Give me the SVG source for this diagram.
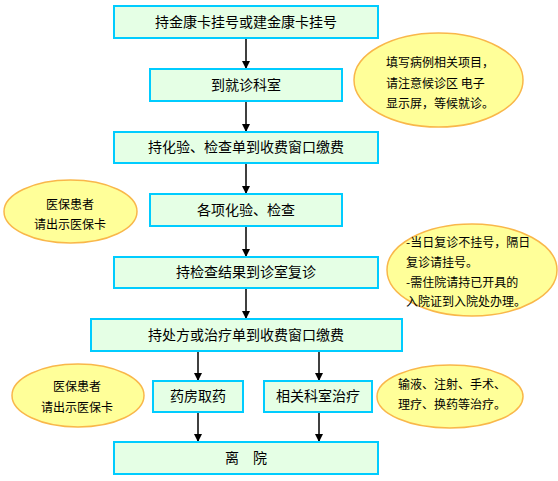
<svg xmlns="http://www.w3.org/2000/svg" width="558" height="481" viewBox="0 0 558 481">
<style>
.box{fill:#E5FFE5;stroke:#00CCFF;stroke-width:2}
.ell{fill:#FFFF99;stroke:#F9B74A;stroke-width:1.5}
.t{font-family:"Noto Sans CJK SC","Noto Sans",sans-serif;font-size:14px;fill:#000;text-anchor:middle}
.s{font-family:"Noto Sans CJK SC","Noto Sans",sans-serif;font-size:12px;fill:#000}
.c{text-anchor:middle}
.ln{stroke:#000;stroke-width:1.5;fill:none}
</style>
<defs>
<marker id="ah" viewBox="0 0 8 8" refX="8" refY="4" markerWidth="8" markerHeight="8" markerUnits="userSpaceOnUse" orient="auto">
<path d="M0,0 L8,4 L0,8 Z" fill="#000"/>
</marker>
</defs>
<rect width="558" height="481" fill="#fff"/>
<g id="connectors">
<line class="ln" x1="246" y1="38" x2="246" y2="69" marker-end="url(#ah)"/>
<line class="ln" x1="246" y1="101" x2="246" y2="132" marker-end="url(#ah)"/>
<line class="ln" x1="246" y1="163" x2="246" y2="194" marker-end="url(#ah)"/>
<line class="ln" x1="246" y1="226" x2="246" y2="257" marker-end="url(#ah)"/>
<line class="ln" x1="246" y1="288" x2="246" y2="319" marker-end="url(#ah)"/>
<line class="ln" x1="198" y1="351" x2="198" y2="381" marker-end="url(#ah)"/>
<line class="ln" x1="319" y1="351" x2="319" y2="381" marker-end="url(#ah)"/>
<line class="ln" x1="198" y1="412" x2="198" y2="442" marker-end="url(#ah)"/>
<line class="ln" x1="319" y1="412" x2="319" y2="442" marker-end="url(#ah)"/>
</g>
<g id="n1"><rect class="box" x="114" y="6" width="264" height="32"/><text class="t" x="246" y="27">持金康卡挂号或建金康卡挂号</text></g>
<g id="n2"><rect class="box" x="150" y="69" width="192" height="32"/><text class="t" x="246" y="90">到就诊科室</text></g>
<g id="n3"><rect class="box" x="114" y="132" width="264" height="31"/><text class="t" x="246" y="152">持化验、检查单到收费窗口缴费</text></g>
<g id="n4"><rect class="box" x="150" y="194" width="192" height="32"/><text class="t" x="246" y="215">各项化验、检查</text></g>
<g id="n5"><rect class="box" x="114" y="257" width="264" height="31"/><text class="t" x="246" y="277">持检查结果到诊室复诊</text></g>
<g id="n6"><rect class="box" x="91" y="319" width="311" height="32"/><text class="t" x="246" y="340">持处方或治疗单到收费窗口缴费</text></g>
<g id="n7"><rect class="box" x="153" y="381" width="90" height="31"/><text class="t" x="198" y="401">药房取药</text></g>
<g id="n8"><rect class="box" x="264" y="381" width="108" height="31"/><text class="t" x="318" y="401">相关科室治疗</text></g>
<g id="n9"><rect class="box" x="114" y="442" width="264" height="32"/><text class="t" x="246" y="463">离　院</text></g>
<g id="e1"><ellipse class="ell" cx="438.5" cy="80" rx="84.5" ry="47"/>
<text class="s" x="386" y="67">填写病例相关项目，</text>
<text class="s" x="386" y="88">请注意候诊区 电子</text>
<text class="s" x="386" y="108">显示屏，等候就诊。</text></g>
<g id="e2"><ellipse class="ell" cx="70.5" cy="211.5" rx="66.5" ry="31.5"/>
<text class="s c" x="70" y="209">医保患者</text>
<text class="s c" x="70" y="229">请出示医保卡</text></g>
<g id="e3"><ellipse class="ell" cx="472" cy="270" rx="85" ry="46"/>
<text class="s" x="406" y="247">-当日复诊不挂号，隔日</text>
<text class="s" x="406" y="267">复诊请挂号。</text>
<text class="s" x="406" y="287">-需住院请持已开具的</text>
<text class="s" x="406" y="306">入院证到入院处办理。</text></g>
<g id="e4"><ellipse class="ell" cx="78" cy="395.5" rx="66" ry="31.5"/>
<text class="s c" x="77" y="391">医保患者</text>
<text class="s c" x="77" y="412">请出示医保卡</text></g>
<g id="e5"><ellipse class="ell" cx="450" cy="396.5" rx="73" ry="31.5"/>
<text class="s" x="398" y="389">输液、注射、手术、</text>
<text class="s" x="398" y="409">理疗、换药等治疗。</text></g>
</svg>
